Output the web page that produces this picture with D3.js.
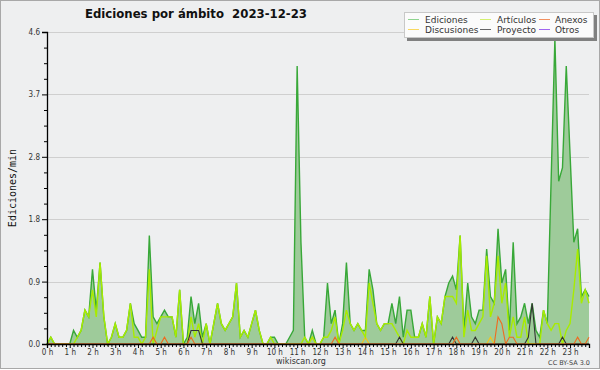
<!DOCTYPE html>
<html>
<head>
<meta charset="utf-8">
<script src="https://cdnjs.cloudflare.com/ajax/libs/d3/7.8.5/d3.min.js"></script>
<style>
  body { margin: 0; background: #fff; }
  svg { display: block; font-family: "DejaVu Sans", sans-serif; }
</style>
</head>
<body>
<div id="chart"></div>
<script>
// chart data, one value every 10 minutes (00:00 .. 23:50)
var title = "Ediciones por ámbito  2023-12-23";
var yTickValues = [0, 0.92, 1.84, 2.76, 3.68, 4.6];
var hourLabels = ["0 h", "1 h", "2 h", "3 h", "4 h", "5 h", "6 h", "7 h", "8 h", "9 h", "10 h", "11 h",
                  "12 h", "13 h", "14 h", "15 h", "16 h", "17 h", "18 h", "19 h", "20 h", "21 h", "22 h", "23 h"];
var seriesNames = ["Ediciones", "Artículos", "Anexos", "Discusiones", "Proyecto", "Otros"];

var ediciones = [
  0, 0.1, 0, 0, 0, 0, 0, 0.2, 0.1, 0.2, 0.5, 0.4,
  1.1, 0.5, 1.2, 0.4, 0, 0.1, 0.3, 0.1, 0.1, 0.2, 0.6, 0.3,
  0.2, 0.1, 0.1, 1.6, 0.4, 0.3, 0.4, 0.5, 0.4, 0.4, 0.1, 0.8,
  0, 0.1, 0.7, 0.3, 0.6, 0.1, 0.3, 0, 0.3, 0.6, 0.3, 0.2,
  0.3, 0.4, 0.9, 0.1, 0.2, 0.1, 0.3, 0.5, 0.2, 0, 0, 0.1,
  0.1, 0, 0, 0, 0.1, 0.2, 4.1, 1.5, 0.1, 0, 0.2, 0,
  0, 0.1, 0.9, 0.3, 0.5, 0, 0.3, 1.2, 0.3, 0.2, 0.3, 0.2,
  0.2, 1.1, 0.8, 0.3, 0.2, 0.3, 0.3, 0.6, 0.3, 0.7, 0.1, 0.5,
  0.5, 0.1, 0.1, 0.3, 0.1, 0.7, 0, 0.4, 0.3, 0.7, 0.9, 1.0,
  0.8, 1.6, 0.2, 0.9, 0.4, 0.3, 0.5, 0.5, 1.4, 0.7, 0.6, 1.7,
  0.9, 1.1, 0.2, 1.5, 0.3, 0.4, 0.6, 0.3, 0.6, 0.2, 0.1, 0.5,
  0.3, 2.4, 4.5, 2.4, 2.6, 4.1, 2.8, 1.5, 1.7, 0.7, 0.8, 0.7
];
var articulos = [
  0, 0.1, 0, 0, 0, 0, 0, 0, 0.1, 0.2, 0.5, 0.4,
  0.8, 0.4, 1.2, 0.4, 0, 0.1, 0.3, 0.1, 0.1, 0.2, 0.6, 0.1,
  0.1, 0, 0.1, 1.1, 0, 0.2, 0.4, 0.4, 0.4, 0.4, 0.1, 0.8,
  0, 0, 0.4, 0.1, 0.3, 0, 0.3, 0, 0.3, 0.6, 0.3, 0.2,
  0.3, 0.4, 0.9, 0.1, 0.2, 0.1, 0.3, 0.5, 0.2, 0, 0, 0.1,
  0, 0, 0, 0, 0, 0, 0, 0, 0.1, 0, 0.1, 0,
  0, 0.1, 0.1, 0.2, 0.4, 0, 0.2, 0.5, 0.3, 0.2, 0.3, 0.2,
  0.1, 0.9, 0.6, 0.3, 0.2, 0.3, 0.3, 0.3, 0.2, 0.1, 0, 0.2,
  0.1, 0.1, 0.1, 0.3, 0.1, 0.7, 0, 0.4, 0.3, 0.7, 0.7, 0.7,
  0.6, 1.6, 0.1, 0.5, 0.2, 0.2, 0.3, 0.4, 1.3, 0.4, 0.6, 1.3,
  0.6, 0.9, 0.1, 0.4, 0.1, 0.1, 0.4, 0, 0, 0, 0, 0.5,
  0.3, 0.2, 0.3, 0.3, 0, 0.2, 0.3, 0.8, 1.4, 0.6, 0.8, 0.6
];
var anexos = [
  0, 0, 0, 0, 0, 0, 0, 0, 0, 0, 0, 0,
  0, 0, 0, 0, 0, 0, 0, 0, 0, 0, 0, 0,
  0, 0, 0, 0, 0.1, 0, 0, 0.1, 0, 0, 0, 0,
  0, 0, 0.1, 0, 0, 0, 0, 0, 0, 0, 0, 0,
  0, 0, 0, 0, 0, 0, 0, 0, 0, 0, 0, 0,
  0, 0, 0, 0, 0, 0, 0, 0, 0, 0, 0, 0,
  0, 0, 0, 0, 0.1, 0, 0, 0, 0, 0, 0, 0,
  0, 0, 0, 0, 0, 0, 0, 0, 0, 0, 0, 0,
  0, 0, 0, 0, 0, 0, 0, 0, 0, 0, 0, 0,
  0.1, 0, 0, 0, 0, 0, 0, 0, 0, 0, 0, 0.4,
  0.3, 0, 0.1, 0.1, 0, 0, 0, 0, 0, 0, 0, 0,
  0, 0, 0, 0, 0, 0, 0, 0, 0.1, 0, 0, 0.1
];
var discusiones = [
  0, 0, 0, 0, 0, 0, 0, 0, 0, 0, 0, 0,
  0, 0, 0, 0, 0, 0, 0, 0, 0, 0, 0, 0,
  0, 0, 0, 0, 0, 0, 0, 0, 0, 0, 0, 0,
  0, 0, 0, 0, 0, 0, 0, 0, 0, 0, 0, 0,
  0, 0, 0, 0, 0, 0, 0, 0, 0, 0, 0, 0,
  0, 0, 0, 0, 0, 0, 0, 0, 0, 0, 0.1, 0,
  0, 0, 0, 0, 0, 0, 0, 0, 0, 0, 0, 0,
  0.1, 0, 0, 0, 0, 0, 0, 0, 0, 0, 0, 0,
  0, 0, 0, 0, 0, 0, 0, 0, 0, 0, 0, 0,
  0, 0, 0, 0, 0, 0, 0, 0, 0, 0.1, 0, 0,
  0, 0, 0, 0, 0, 0, 0, 0, 0, 0, 0, 0,
  0, 0, 0, 0, 0, 0, 0, 0, 0, 0, 0, 0
];
var proyecto = [
  0, 0, 0, 0, 0, 0, 0, 0, 0, 0, 0, 0,
  0, 0, 0, 0, 0, 0, 0, 0, 0, 0, 0, 0,
  0, 0, 0, 0, 0, 0, 0, 0, 0, 0, 0, 0,
  0, 0, 0.2, 0.2, 0.2, 0, 0, 0, 0, 0, 0, 0,
  0, 0, 0, 0, 0, 0, 0, 0, 0, 0, 0, 0,
  0, 0, 0, 0, 0, 0, 0, 0, 0, 0, 0, 0,
  0, 0, 0, 0, 0, 0, 0, 0, 0, 0, 0, 0,
  0, 0, 0, 0, 0, 0, 0, 0, 0, 0.1, 0, 0,
  0, 0, 0, 0, 0, 0, 0, 0, 0, 0, 0, 0.1,
  0, 0, 0, 0, 0, 0.1, 0, 0, 0, 0, 0, 0,
  0, 0, 0, 0, 0, 0, 0, 0.1, 0.6, 0, 0, 0,
  0, 0, 0, 0, 0.1, 0, 0, 0, 0, 0, 0, 0
];
var otros = [
  0, 0, 0, 0, 0, 0, 0, 0, 0, 0, 0, 0,
  0, 0, 0, 0, 0, 0, 0, 0, 0, 0, 0, 0,
  0, 0, 0, 0, 0, 0, 0, 0, 0, 0, 0, 0,
  0, 0, 0, 0, 0, 0, 0, 0, 0, 0, 0, 0,
  0, 0, 0, 0, 0, 0, 0, 0, 0, 0, 0, 0,
  0, 0, 0, 0, 0, 0, 0, 0, 0, 0, 0, 0,
  0, 0, 0, 0, 0, 0, 0, 0, 0, 0, 0, 0,
  0, 0, 0, 0, 0, 0, 0, 0, 0, 0, 0, 0,
  0, 0, 0, 0, 0, 0, 0, 0, 0, 0, 0, 0,
  0, 0, 0, 0, 0, 0, 0, 0, 0, 0, 0, 0,
  0, 0, 0, 0, 0, 0, 0, 0, 0, 0, 0, 0,
  0, 0, 0, 0, 0, 0, 0, 0, 0, 0, 0, 0
];

var colors = {
  "Ediciones": "#38a838",
  "Artículos": "#a8ec00",
  "Anexos": "#f06a1e",
  "Discusiones": "#f5c518",
  "Proyecto": "#333333",
  "Otros": "#9944ee"
};
var legendColors = {
  "Ediciones": "#8fd48f",
  "Artículos": "#d4f070",
  "Anexos": "#f29060",
  "Discusiones": "#f8d860",
  "Proyecto": "#666666",
  "Otros": "#a066f0"
};

var svgWidth = 600;
var svgHeight = 370;
var margin = { top: 32, right: 11, bottom: 26, left: 47 };

var svg = d3.select("#chart")
  .append("svg")
  .attr("width", svgWidth)
  .attr("height", svgHeight);

// background + frame
svg.append("rect")
  .attr("x", 0.5).attr("y", 0.5)
  .attr("width", svgWidth - 1).attr("height", svgHeight - 2)
  .attr("fill", "#eeeff0")
  .attr("stroke", "#a8a8a8");

var slots = d3.range(0, 1440, 10);   // minutes of the day

var x = d3.scaleLinear()
  .domain([0, 1430])
  .range([margin.left, svgWidth - margin.right]);

var y = d3.scaleLinear()
  .domain([0, 4.6])
  .range([svgHeight - margin.bottom, margin.top]);

// gridlines
svg.append("g")
  .selectAll("line")
  .data(yTickValues.slice(1))
  .enter()
  .append("line")
  .attr("x1", x(0)).attr("x2", x(1430))
  .attr("y1", d => Math.round(y(d)) + 0.5)
  .attr("y2", d => Math.round(y(d)) + 0.5)
  .attr("stroke", "#cfcfcf");

// Ediciones area + line
var area = d3.area()
  .x((d, i) => x(slots[i]))
  .y0(y(0))
  .y1(d => y(d));

var line = d3.line()
  .x((d, i) => x(slots[i]))
  .y(d => y(d));

svg.append("path")
  .datum(ediciones)
  .attr("d", area)
  .attr("fill", "#9ecb9a");

svg.append("path")
  .datum(ediciones)
  .attr("d", line)
  .attr("fill", "none")
  .attr("stroke", colors["Ediciones"])
  .attr("stroke-width", 1.4);

var otherSeries = [
  { name: "Otros", values: otros },
  { name: "Discusiones", values: discusiones },
  { name: "Artículos", values: articulos },
  { name: "Proyecto", values: proyecto },
  { name: "Anexos", values: anexos }
];

svg.append("g")
  .selectAll("path")
  .data(otherSeries)
  .enter()
  .append("path")
  .attr("d", d => line(d.values))
  .attr("fill", "none")
  .attr("stroke", d => colors[d.name])
  .attr("stroke-width", d => d.name == "Artículos" ? 1.4 : 1.1);

// y axis
var yAxis = d3.axisLeft(y)
  .tickValues(yTickValues)
  .tickFormat(d3.format(".1f"))
  .tickSize(5)
  .tickPadding(2);

var minorY = [];
yTickValues.slice(1).forEach(function(t, k) {
  var step = (t - yTickValues[k]) / 4;
  minorY.push(yTickValues[k] + step, yTickValues[k] + 2 * step, yTickValues[k] + 3 * step);
});

var yG = svg.append("g")
  .attr("transform", `translate(${x(0)}, 0)`)
  .call(yAxis);
svg.append("g")
  .attr("transform", `translate(${x(0)}, 0)`)
  .call(d3.axisLeft(y).tickValues(minorY).tickFormat("").tickSize(3))
  .select(".domain").remove();

// x axis
var hourTicks = hourLabels.map((h, i) => i * 60);
var xAxis = d3.axisBottom(x)
  .tickValues(hourTicks)
  .tickFormat((d, i) => hourLabels[i])
  .tickSize(4)
  .tickPadding(1);

var xG = svg.append("g")
  .attr("transform", `translate(0, ${y(0)})`)
  .call(xAxis);
svg.append("g")
  .attr("transform", `translate(0, ${y(0)})`)
  .call(d3.axisBottom(x).tickValues(slots.filter(m => m % 60)).tickFormat("").tickSize(3))
  .select(".domain").remove();

svg.selectAll(".domain").attr("stroke", "#000").attr("stroke-width", 1.3);
svg.selectAll(".tick line").attr("stroke", "#000");
[yG, xG].forEach(function(g) {
  g.selectAll("text")
    .attr("fill", "#333")
    .style("font-size", "8px")
    .style("font-family", "'DejaVu Sans Condensed', 'DejaVu Sans', sans-serif");
});

// titles
svg.append("text")
  .attr("x", 85)
  .attr("y", 18)
  .style("white-space", "pre")
  .style("font-family", "'DejaVu Sans Condensed', 'DejaVu Sans', sans-serif")
  .style("font-weight", "bold")
  .style("font-size", "13px")
  .attr("fill", "#111")
  .text(title);

svg.append("text")
  .attr("transform", "rotate(-90)")
  .attr("x", -188)
  .attr("y", 16)
  .attr("text-anchor", "middle")
  .style("font-family", "'DejaVu Sans Mono', monospace")
  .style("font-size", "10px")
  .attr("fill", "#111")
  .text("Ediciones/min");

svg.append("text")
  .attr("x", 301)
  .attr("y", 364)
  .attr("text-anchor", "middle")
  .style("font-size", "8px")
  .attr("fill", "#333")
  .text("wikiscan.org");

svg.append("text")
  .attr("x", 590)
  .attr("y", 365)
  .attr("text-anchor", "end")
  .style("font-size", "6.5px")
  .attr("fill", "#444")
  .text("CC BY-SA 3.0");

// legend
var legend = svg.append("g");
legend.append("rect")
  .attr("x", 407).attr("y", 15)
  .attr("width", 190).attr("height", 26)
  .attr("fill", "#808080");
legend.append("rect")
  .attr("x", 404.5).attr("y", 12.5)
  .attr("width", 189).attr("height", 25)
  .attr("fill", "#fbfbfb")
  .attr("stroke", "#c8c8c8");

var colX = [408, 480, 539];
var textX = [425, 497, 555];
var items = legend.selectAll("g.item")
  .data(seriesNames)
  .enter()
  .append("g")
  .attr("class", "item")
  .attr("transform", (d, i) => `translate(0, ${i < 3 ? 19 : 29})`);

items.append("line")
  .attr("x1", (d, i) => colX[i % 3])
  .attr("x2", (d, i) => colX[i % 3] + 11)
  .attr("y1", 0.5).attr("y2", 0.5)
  .attr("stroke", d => legendColors[d]);

items.append("text")
  .attr("x", (d, i) => textX[i % 3])
  .attr("y", 3.5)
  .style("font-size", "9px")
  .attr("fill", "#333")
  .text(d => d);
</script>
</body>
</html>
